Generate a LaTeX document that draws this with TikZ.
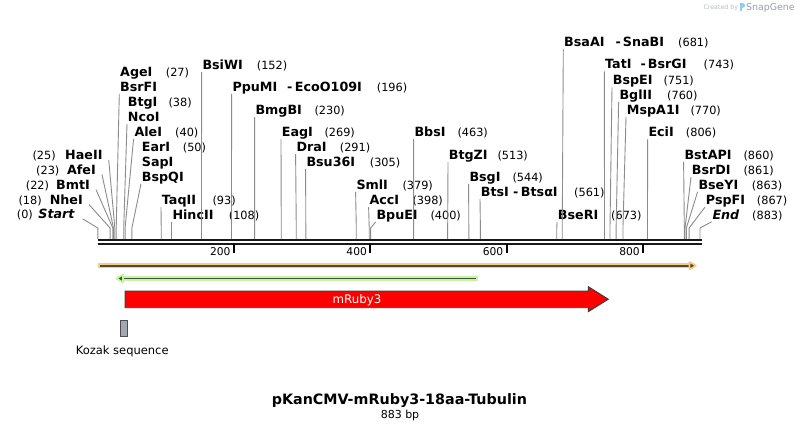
\documentclass[tikz,border=0pt]{standalone}
\usepackage{fontspec}
\setmainfont{DejaVu Sans}
\usetikzlibrary{calc}
\definecolor{sitegray}{HTML}{8C8C8C}
\definecolor{glowO}{HTML}{F9CC80}
\definecolor{lineO}{HTML}{55483A}
\definecolor{glowG}{HTML}{C4F5A0}
\definecolor{lineG}{HTML}{475140}
\definecolor{featred}{HTML}{FF0000}
\definecolor{featedge}{HTML}{3A3A3A}
\definecolor{kozakfill}{HTML}{A2A8B0}
\definecolor{wmgray}{HTML}{9AA0A6}
\definecolor{wmblue}{HTML}{8CCBF2}
\begin{document}
\begin{tikzpicture}[x=1pt,y=-1pt,
  enz/.style={font=\fontsize{12.7}{14}\selectfont\bfseries, inner sep=0pt, text height=9pt, text depth=2.5pt, anchor=base west},
  enzL/.style={enz, anchor=base east},
  num/.style={font=\fontsize{11.3}{13}\selectfont, inner sep=0pt, anchor=base west},
  site/.style={draw=sitegray, line width=0.9pt},
  scalenum/.style={font=\fontsize{10.7}{12}\selectfont, inner sep=0pt, anchor=base east},
  scaletick/.style={draw=black, line width=2pt},
  bbar/.style={draw=black!90, line width=2.2pt},
]
\useasboundingbox (0,0) rectangle (800,431);
\fill[white] (0,0) rectangle (800,431);

% ---- site coordinates
\foreach \b in {0,18,22,23,25,27,38,40,50,93,108,152,196,230,269,291,305,379,398,400,463,513,544,561,673,681,743,751,760,770,806,860,861,863,867,883} {
  \coordinate (t\b) at ({97.8+0.682*\b},239);
  \coordinate (k\b) at ({97.8+0.682*\b},228);
}

% ---- left labels
\node[enzL, font=\fontsize{12.7}{14}\selectfont\bfseries\itshape] (nStart) at (74.7,218.7) {Start};
\node[num] (mStart) at (16.7,218.7) {(0)};
\node[enzL] (nNheI) at (83,204.4) {NheI};
\node[num] (mNheI) at (18.3,204.4) {(18)};
\node[enzL] (nBmtI) at (90,189.4) {BmtI};
\node[num] (mBmtI) at (25.7,189.4) {(22)};
\node[enzL] (nAfeI) at (96,174.4) {AfeI};
\node[num] (mAfeI) at (36,174.4) {(23)};
\node[enzL] (nHaeII) at (102.7,159.7) {HaeII};
\node[num] (mHaeII) at (32.3,159.7) {(25)};

% ---- right labels
\node[enz] (nAgeI) at (120,76.7) {AgeI};
\node[num] (mAgeI) at (165.7,76.7) {(27)};
\node[enz] (nBsrFI) at (120,91.1) {BsrFI};
\node[enz] (nBtgI) at (127.7,106.1) {BtgI};
\node[num] (mBtgI) at (168.3,106.1) {(38)};
\node[enz] (nNcoI) at (127.7,121.1) {NcoI};
\node[enz] (nAleI) at (134.3,136.1) {AleI};
\node[num] (mAleI) at (175,136.1) {(40)};
\node[enz] (nEarI) at (141.7,151.1) {EarI};
\node[num] (mEarI) at (182.7,151.1) {(50)};
\node[enz] (nSapI) at (141.7,166.1) {SapI};
\node[enz] (nBspQI) at (141.7,181.1) {BspQI};
\node[enz] (nTaqII) at (161.7,204.4) {TaqII};
\node[num] (mTaqII) at (212.3,204.4) {(93)};
\node[enz] (nHincII) at (172.3,219.1) {HincII};
\node[num] (mHincII) at (228.7,219.1) {(108)};
\node[enz] (nBsiWI) at (202.3,69.4) {BsiWI};
\node[num] (mBsiWI) at (256.7,69.4) {(152)};
\node[enz] (nPpuMI) at (232.3,91.1) {PpuMI};
\node[enz] (nEcoO) at (287,91.1) {-\hspace{2.5pt}EcoO109I};
\node[num] (mPpuMI) at (376.7,91.1) {(196)};
\node[enz] (nBmgBI) at (255.3,114.4) {BmgBI};
\node[num] (mBmgBI) at (314.3,114.4) {(230)};
\node[enz] (nEagI) at (281.7,136.4) {EagI};
\node[num] (mEagI) at (324.3,136.4) {(269)};
\node[enz] (nDraI) at (296.3,151.4) {DraI};
\node[num] (mDraI) at (339.7,151.4) {(291)};
\node[enz] (nBsuI) at (306.3,166.4) {Bsu36I};
\node[num] (mBsuI) at (369.7,166.4) {(305)};
\node[enz] (nSmlI) at (356.3,189.1) {SmlI};
\node[num] (mSmlI) at (402.3,189.1) {(379)};
\node[enz] (nAccI) at (369.3,204.4) {AccI};
\node[num] (mAccI) at (412.3,204.4) {(398)};
\node[enz] (nBpuEI) at (376.3,219.4) {BpuEI};
\node[num] (mBpuEI) at (430.3,219.4) {(400)};
\node[enz] (nBbsI) at (414.3,136.4) {BbsI};
\node[num] (mBbsI) at (457.3,136.4) {(463)};
\node[enz] (nBtgZI) at (448.7,159.4) {BtgZI};
\node[num] (mBtgZI) at (497.3,159.4) {(513)};
\node[enz] (nBsgI) at (469.3,181.4) {BsgI};
\node[num] (mBsgI) at (512.3,181.4) {(544)};
\node[enz] (nBtsI) at (480.7,196.4) {BtsI};
\node[enz] (nBtsa) at (513,196.4) {-\hspace{2.5pt}BtsαI};
\node[num] (mBtsI) at (574,196.4) {(561)};
\node[enz] (nBseRI) at (557.7,219.1) {BseRI};
\node[num] (mBseRI) at (611,219.1) {(673)};
\node[enz] (nBsaAI) at (564,46.7) {BsaAI};
\node[enz] (nSnaBI) at (615.5,46.7) {-\hspace{2pt}SnaBI};
\node[num] (mBsaAI) at (678,46.7) {(681)};
\node[enz] (nTatI) at (605,68.7) {TatI};
\node[enz] (nBsrGI) at (640.5,68.7) {-\hspace{2pt}BsrGI};
\node[num] (mTatI) at (703.5,68.7) {(743)};
\node[enz] (nBspEI) at (612.7,84.7) {BspEI};
\node[num] (mBspEI) at (663.3,84.7) {(751)};
\node[enz] (nBglII) at (619.3,99.4) {BglII};
\node[num] (mBglII) at (667,99.4) {(760)};
\node[enz] (nMspA) at (626.7,114.4) {MspA1I};
\node[num] (mMspA) at (690.3,114.4) {(770)};
\node[enz] (nEciI) at (648.3,136.7) {EciI};
\node[num] (mEciI) at (685.7,136.7) {(806)};
\node[enz] (nBstAPI) at (684.3,159.4) {BstAPI};
\node[num] (mBstAPI) at (743.3,159.4) {(860)};
\node[enz] (nBsrDI) at (691.7,174.4) {BsrDI};
\node[num] (mBsrDI) at (743.3,174.4) {(861)};
\node[enz] (nBseYI) at (698.3,189.1) {BseYI};
\node[num] (mBseYI) at (751.7,189.1) {(863)};
\node[enz] (nPspFI) at (705.7,204.4) {PspFI};
\node[num] (mPspFI) at (756.7,204.4) {(867)};
\node[enz, font=\fontsize{12.7}{14}\selectfont\bfseries\itshape] (nEnd) at (712.3,219.1) {End};
\node[num] (mEnd) at (752,219.1) {(883)};

% ---- leaders
\foreach \b/\n/\dx in {0/nStart/8, 18/nNheI/6, 22/nBmtI/6, 23/nAfeI/6, 25/nHaeII/6}
  \draw[site] (t\b) -- (k\b) -- ([shift={(\dx,3.4)}]\n.east);
\foreach \b/\n in {27/nBsrFI, 38/nNcoI, 40/nAleI, 50/nBspQI, 93/nTaqII, 108/nHincII, 152/nBsiWI, 196/nPpuMI, 230/nBmgBI, 269/nEagI, 291/nDraI, 305/nBsuI, 379/nSmlI, 398/nAccI, 400/nBpuEI, 463/nBbsI, 513/nBtgZI, 544/nBsgI, 561/nBtsI, 673/nBseRI, 681/nBsaAI, 743/nTatI, 751/nBspEI, 760/nBglII, 770/nMspA, 806/nEciI, 860/nBstAPI, 861/nBsrDI, 863/nBseYI, 867/nPspFI, 883/nEnd}
  \draw[site] (t\b) -- (k\b) -- ([xshift=-0.7pt]\n.south west);

% ---- sequence bar
\coordinate (barL) at (97.7,240);
\coordinate (barR) at (701.7,240);
\coordinate (barL2) at (97.7,244.2);
\coordinate (barR2) at (701.7,244.2);
\draw[bbar] (barL) -- (barR);
\draw[bbar] (barL2) -- (barR2);

% ---- scale ticks
\foreach \v in {200,400,600,800} {
  \coordinate (sa\v) at ({97.3+0.682*\v},244);
  \coordinate (sb\v) at ({97.3+0.682*\v},252.5);
  \draw[scaletick] (sa\v) -- (sb\v);
  \node[scalenum] (sn\v) at ([xshift=-3pt]{97.3+0.682*\v},255.7) {\v};
}

% ---- orange feature (forward, full length)
\coordinate (oL) at (97.7,265.7);
\coordinate (oR) at (697.5,265.7);
\draw[glowO, line width=5.5pt] (oL) -- ([xshift=-4pt]oR);
\draw[lineO, line width=1.6pt] ([xshift=2.5pt]oL) -- ([xshift=-5pt]oR);
\filldraw[fill=lineO, draw=glowO, line width=1.6pt, line join=round]
  ([xshift=-1.5pt]oR) -- ([shift={(-8,-3.8)}]oR) -- ([shift={(-8,3.8)}]oR) -- cycle;

% ---- green feature (reverse)
\coordinate (gL) at (114.5,278.5);
\coordinate (gR) at (477.7,278.5);
\draw[glowG, line width=4.8pt] ([xshift=4pt]gL) -- (gR);
\draw[lineG, line width=1.7pt] ([xshift=5pt]gL) -- ([xshift=-2pt]gR);
\filldraw[fill=lineG, draw=glowG, line width=1.8pt, line join=round]
  ([xshift=2pt]gL) -- ([shift={(8.5,-4)}]gL) -- ([shift={(8.5,4)}]gL) -- cycle;

% ---- mRuby3 arrow
\draw[fill=featred, draw=featedge, line width=0.9pt, line join=miter]
  (125,291) -- (588.3,291) -- (588.3,286.7) -- (608.3,299.2) -- (588.3,311.7) -- (588.3,307.7) -- (125,307.7) -- cycle;
\node[font=\fontsize{11.8}{13}\selectfont, text=white, inner sep=0pt, anchor=base] (ruby) at (357,303.3) {mRuby3};

% ---- Kozak sequence
\draw[fill=kozakfill, draw=featedge!90, line width=0.9pt] (120.3,320.7) rectangle (127.7,336.7);
\node[font=\fontsize{11.5}{13}\selectfont, inner sep=0pt, anchor=base] (kozak) at (122.2,354.3) {Kozak sequence};

% ---- title
\node[font=\fontsize{14.3}{16}\selectfont\bfseries, inner sep=0pt, anchor=base] (title) at (399.4,404.4) {pKanCMV-mRuby3-18aa-Tubulin};
\node[font=\fontsize{11}{12}\selectfont, inner sep=0pt, anchor=base] (bp) at (400,418) {883 bp};

% ---- watermark
\node[font=\fontsize{6.3}{8}\selectfont, text=wmgray!70, inner sep=0pt, anchor=base west] (wm1) at (703.3,9.3) {Created by};
\fill[wmblue] (740.2,2.6) rectangle (741.8,11) ;
\fill[wmblue] (741.8,2.6) .. controls (745.5,2.6) and (745.5,7.6) .. (741.8,7.6) -- cycle;
\node[font=\fontsize{9.4}{11}\selectfont, text=wmgray, inner sep=0pt, anchor=base west] (wm2) at (746,10.6) {SnapGene};
\end{tikzpicture}
\end{document}
